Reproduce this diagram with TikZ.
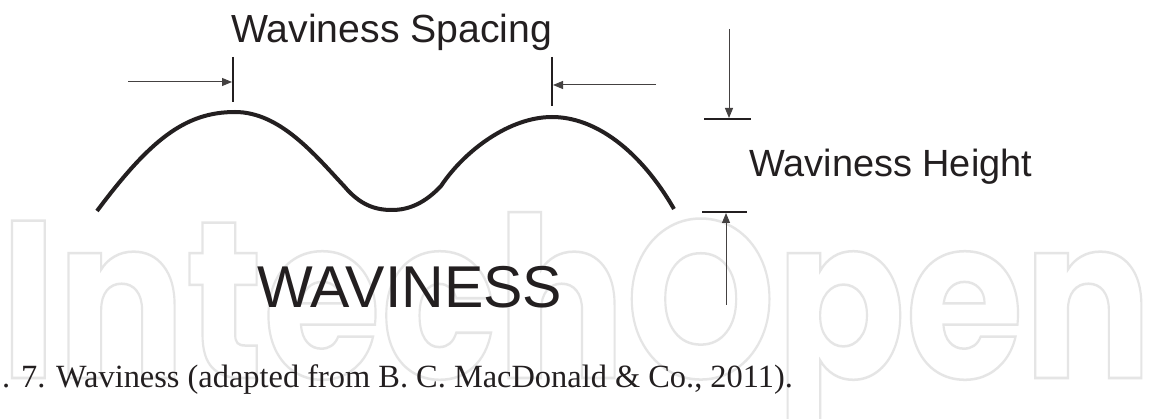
\documentclass[tikz,border=0pt]{standalone}
\usepackage{fontspec}
\setmainfont{Liberation Serif}
\newfontfamily\arialf{Liberation Sans}
\newfontfamily\wmfont{Poppins}
\usetikzlibrary{arrows.meta}
\definecolor{ink}{HTML}{231F20}
\definecolor{wmgray}{HTML}{E6E6E6}
\tikzset{
  wave/.style={line width=4pt, draw=ink, line join=round},
  tickline/.style={line width=1.3pt, draw=ink},
  arr/.style={line width=1pt, draw=ink!85, -{Triangle[length=10pt,width=8pt]}},
  lbl/.style={anchor=base west, inner sep=0pt, text=ink},
}
\begin{document}
\begin{tikzpicture}[x=1pt,y=-1pt]
\useasboundingbox[fill=white] (0,0) rectangle (1150,419);
% watermark
\node[lbl, text=wmgray, font=\wmfont\bfseries\fontsize{224}{224}\selectfont] (wm) at (0,378)
  {\resizebox{1152pt}{\height}{\special{pdf:literal q 1 Tr 2.5 w 0.9 G}IntechOpen\special{pdf:literal Q}}};
% labels
\node[lbl, font=\arialf\fontsize{39.2}{40}\selectfont] (spacing) at (231,43) {Waviness Spacing};
\node[lbl, font=\arialf\fontsize{37.9}{40}\selectfont] (height) at (749,177) {Waviness Height};
\node[lbl, font=\arialf\fontsize{59}{60}\selectfont] (title) at (257,308) {WAVINESS};
\node[lbl, font=\fontsize{32.4}{36}\selectfont] (caption) at (2,387) {. 7. Waviness (adapted from B. C. MacDonald \& Co., 2011).};
% wave
\draw[wave] (97,211) .. controls (150,140) and (185,112) .. (235,112)
  .. controls (280,112) and (315,155) .. (344,186)
  .. controls (360,205) and (375,210) .. (392,210)
  .. controls (409,210) and (425,203) .. (441,186)
  .. controls (465,150) and (510,117) .. (552,117)
  .. controls (595,117) and (640,150) .. (674,209);
% spacing ticks and arrows
\coordinate (t1a) at (233,57); \coordinate (t1b) at (233,102);
\coordinate (t2a) at (552,57); \coordinate (t2b) at (552,106);
\draw[tickline] (t1a) -- (t1b);
\draw[tickline] (t2a) -- (t2b);
\coordinate (a1s) at (128,82); \coordinate (a1e) at (232,82);
\coordinate (a2s) at (656,85); \coordinate (a2e) at (553,85);
\draw[arr] (a1s) -- (a1e);
\draw[arr] (a2s) -- (a2e);
% height marks and arrows
\coordinate (h1a) at (704,119); \coordinate (h1b) at (751,119);
\coordinate (h2a) at (702,212); \coordinate (h2b) at (747,212);
\draw[tickline] (h1a) -- (h1b);
\draw[tickline] (h2a) -- (h2b);
\coordinate (d1s) at (729,29); \coordinate (d1e) at (729,118);
\coordinate (u1s) at (726,305); \coordinate (u1e) at (726,213);
\draw[arr] (d1s) -- (d1e);
\draw[arr] (u1s) -- (u1e);
\end{tikzpicture}
\end{document}
